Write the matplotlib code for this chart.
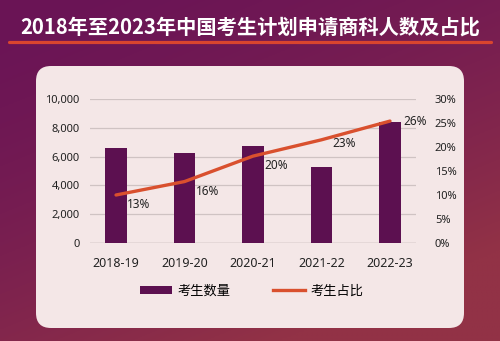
import matplotlib
matplotlib.use("Agg")
import matplotlib.pyplot as plt
import numpy as np
from matplotlib.patches import FancyBboxPatch
from matplotlib.lines import Line2D
from matplotlib.patches import Patch

plt.rcParams['font.family'] = ['Noto Sans', 'Noto Sans CJK SC', 'DejaVu Sans']

# ---- data ----
years = ["2018-19", "2019-20", "2020-21", "2021-22", "2022-23"]
applicants = [6620, 6230, 6740, 5260, 8420]
share = [0.100, 0.128, 0.181, 0.215, 0.254]
share_labels = ["13%", "16%", "20%", "23%", "26%"]
left_ticks = [0, 2000, 4000, 6000, 8000, 10000]
right_ticks = [0, 0.05, 0.10, 0.15, 0.20, 0.25, 0.30]
title = "2018年至2023年中国考生计划申请商科人数及占比"
legend_labels = ["考生数量", "考生占比"]

W, H = 500, 341
fig = plt.figure(figsize=(W / 100, H / 100), dpi=100)

# background gradient
bg = fig.add_axes([0, 0, 1, 1])
bg.set_axis_off()
yy, xx = np.mgrid[0:1:200j, 0:1:300j]
t = np.clip(0.45 * xx + 0.75 * yy, 0, 1) ** 1.6
c0 = np.array([0x6a, 0x14, 0x56]) / 255
c1 = np.array([0x92, 0x32, 0x46]) / 255
img = c0[None, None, :] * (1 - t[..., None]) + c1[None, None, :] * t[..., None]
bg.imshow(img, extent=[0, 1, 0, 1], aspect='auto', origin='upper')
bg.set_xlim(0, 1)
bg.set_ylim(0, 1)

# panel
px0, px1, py0, py1 = 36, 464, 66, 328
panel = FancyBboxPatch((px0 / W, 1 - py1 / H), (px1 - px0) / W, (py1 - py0) / H,
                       boxstyle="round,pad=0,rounding_size=0.03",
                       transform=fig.transFigure, facecolor="#f4e7e7",
                       edgecolor="none", zorder=1, mutation_aspect=W / H)
fig.patches.append(panel)

# title + underline
fig.text(0.5, 1 - 27 / H, title, ha='center', va='center', color='white',
         fontsize=14.6, fontweight='heavy',
         family=['Noto Sans CJK SC', 'DejaVu Sans'])
fig.add_artist(Line2D([9 / W, 491 / W], [1 - 42 / H, 1 - 42 / H],
                      transform=fig.transFigure, color="#d9452e", lw=2.3,
                      solid_capstyle='round'))

# main axes
ax = fig.add_axes([90 / W, (H - 243) / H, 326 / W, 144 / H])
ax.set_zorder(3)
ax.patch.set_alpha(0)
x = np.arange(len(years))
ax.bar(x, applicants, width=0.32, color="#5c1050", zorder=3)
ax.set_xlim(-0.38, 4.38)
ax.set_ylim(0, 10000)
ax.set_yticks(left_ticks)
ax.set_yticklabels([f"{v:,}" for v in left_ticks])
ax.set_xticks(x)
ax.set_xticklabels(years)
ax.grid(axis='y', color="#cfc3c3", lw=0.9, zorder=0)
for s in ax.spines.values():
    s.set_visible(False)
ax.axhline(0, color="#bfb3b3", lw=1.0, zorder=2)
ax.tick_params(axis='y', length=0, pad=7.5, labelsize=8, colors="#222222")
ax.tick_params(axis='x', length=0, pad=10, labelsize=9, colors="#222222")

ax2 = ax.twinx()
ax2.set_ylim(0, 0.30)
ax2.set_yticks(right_ticks)
ax2.set_yticklabels([f"{int(round(v * 100))}%" for v in right_ticks])
ax2.tick_params(axis='y', length=0, pad=13.5, labelsize=8, colors="#222222")
for s in ax2.spines.values():
    s.set_visible(False)
ax2.plot(x, share, color="#d9502e", lw=2.4, zorder=4, solid_capstyle='round')

offsets = [(8, -7), (8, -7), (8, -7), (8, -3), (10, 0)]
for xi, yi, lab, off in zip(x, share, share_labels, offsets):
    ax2.annotate(lab, (xi, yi), xytext=off, textcoords='offset points',
                 ha='left', va='center', fontsize=8.5, color="#222222")

handles = [Patch(facecolor="#5c1050", edgecolor='none'),
           Line2D([0], [0], color="#d9502e", lw=2.4)]
fig.legend(handles, legend_labels, loc='center', bbox_to_anchor=(252 / W, 1 - 291 / H),
           ncol=2, frameon=False, handlelength=2.4,
           handleheight=0.55, handletextpad=0.45, columnspacing=3.2,
           prop={'family': ['Noto Sans CJK SC', 'DejaVu Sans'], 'size': 9.5})

fig.savefig("out.png", dpi=100)
